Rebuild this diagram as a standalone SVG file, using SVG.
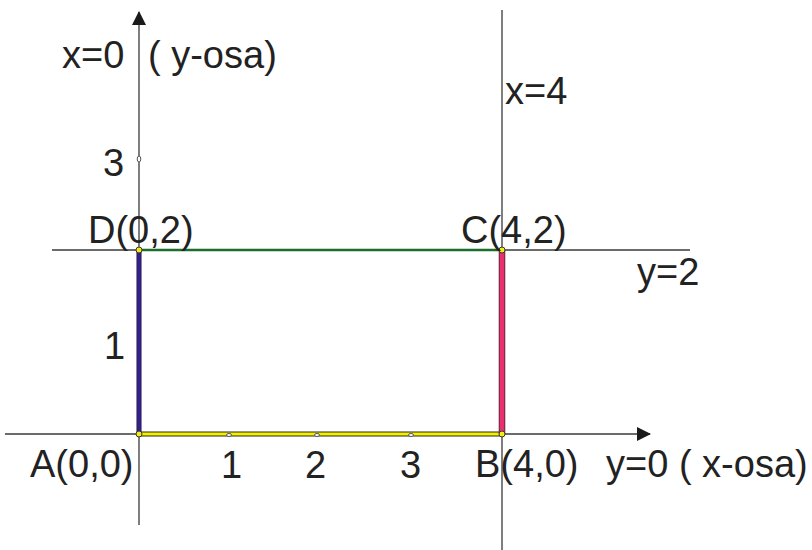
<svg xmlns="http://www.w3.org/2000/svg" width="812" height="550" viewBox="0 0 812 550">
<style>
.ax{stroke:#3a3a3a;stroke-width:1.3;fill:none}
.lbl{font-family:"Liberation Sans",Arial,sans-serif;font-size:38px;fill:#222}
.pt{fill:#f2ea1a;stroke:#3a3a2a;stroke-width:1}
.tk{fill:#fff;stroke:#555;stroke-width:1}
</style>
<defs>
<marker id="arr" viewBox="0 0 14 14" refX="13" refY="7" markerWidth="14" markerHeight="14" markerUnits="userSpaceOnUse" orient="auto">
<path d="M0,0 L14,7 L0,14 Z" fill="#1a1a1a"/>
</marker>
</defs>
<rect width="812" height="550" fill="#fff"/>
<g id="connectors">
<line class="ax" x1="139" y1="525" x2="139" y2="12" marker-end="url(#arr)"/>
<line class="ax" x1="5" y1="434" x2="650" y2="434" marker-end="url(#arr)"/>
<line class="ax" x1="502" y1="10" x2="502" y2="550"/>
<line class="ax" x1="52" y1="250" x2="690" y2="250"/>
</g>
<g id="edges">
<line x1="139" y1="434" x2="502" y2="434" stroke="#2a2a1a" stroke-width="5"/>
<line x1="139" y1="434" x2="502" y2="434" stroke="#f5f000" stroke-width="3"/>
<line x1="139" y1="250" x2="502" y2="250" stroke="#1b6e2c" stroke-width="2.5"/>
<line x1="139" y1="250" x2="139" y2="434" stroke="#1a1040" stroke-width="5"/>
<line x1="139" y1="250" x2="139" y2="434" stroke="#35208f" stroke-width="3.5"/>
<line x1="502" y1="250" x2="502" y2="434" stroke="#3a1a2a" stroke-width="6.5"/>
<line x1="502" y1="250" x2="502" y2="434" stroke="#e8306e" stroke-width="5"/>
</g>
<g id="ticks">
<ellipse class="tk" cx="139" cy="159" rx="1.8" ry="3"/>
<ellipse class="tk" cx="229" cy="435" rx="2.5" ry="1.5"/>
<ellipse class="tk" cx="317" cy="435" rx="2.5" ry="1.5"/>
<ellipse class="tk" cx="411" cy="435" rx="2.5" ry="1.5"/>
</g>
<g id="point-A"><circle class="pt" cx="139" cy="434" r="3"/><text class="lbl" x="30" y="477">A(0,0)</text></g>
<g id="point-B"><circle class="pt" cx="502" cy="434" r="3"/><text class="lbl" x="475" y="477">B(4,0)</text></g>
<g id="point-C"><circle class="pt" cx="502" cy="250" r="3"/><text class="lbl" x="461" y="243">C(4,2)</text></g>
<g id="point-D"><circle class="pt" cx="139" cy="250" r="3"/><text class="lbl" x="88" y="243">D(0,2)</text></g>
<g id="labels">
<text class="lbl" x="62" y="68">x=0 <tspan x="148">( y-osa)</tspan></text>
<text class="lbl" x="505" y="104">x=4</text>
<text class="lbl" x="637" y="285">y=2</text>
<text class="lbl" x="606" y="477">y=0 ( x-osa)</text>
<text class="lbl" x="103" y="176">3</text>
<text class="lbl" x="104" y="359">1</text>
<text class="lbl" x="221" y="478">1</text>
<text class="lbl" x="305" y="478">2</text>
<text class="lbl" x="400" y="478">3</text>
</g>
</svg>
